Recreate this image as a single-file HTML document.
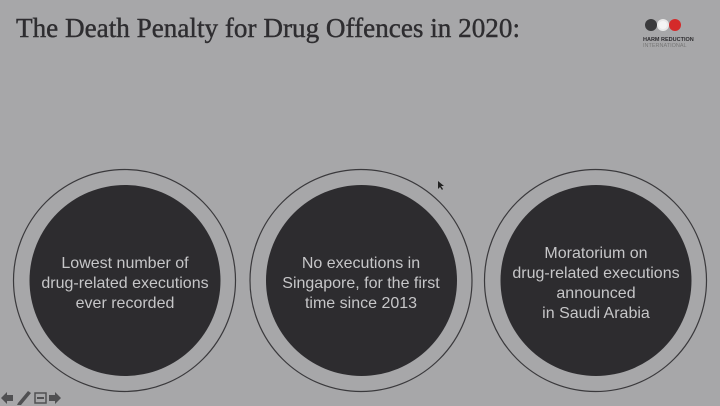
<!DOCTYPE html>
<html><head><style>
html,body{margin:0;padding:0;background:#a7a7a9;}
svg{display:block;}
</style></head><body>
<svg width="720" height="406" viewBox="0 0 720 406" xmlns="http://www.w3.org/2000/svg">
<rect width="720" height="406" fill="#a7a7a9"/>
<text x="16" y="37" font-family="Liberation Serif, serif" font-size="27" fill="#2e2d30" stroke="#2e2d30" stroke-width="0.4" textLength="504" lengthAdjust="spacingAndGlyphs">The Death Penalty for Drug Offences in 2020:</text>
<!-- logo -->
<circle cx="651" cy="25" r="6" fill="#3a3a3c"/>
<circle cx="663" cy="25" r="6" fill="#e8e8e8"/>
<circle cx="675" cy="25" r="6" fill="#d42a2a"/>
<circle cx="663" cy="25" r="4" fill="#f4f4f4"/>
<text x="643" y="41" font-family="Liberation Sans, sans-serif" font-size="5.5" font-weight="bold" fill="#2e2d30">HARM REDUCTION</text>
<text x="643" y="47" font-family="Liberation Sans, sans-serif" font-size="5.5" fill="#777">INTERNATIONAL</text>
<g fill="none" stroke="#3a393c" stroke-width="1.2">
<circle cx="124.5" cy="280.5" r="111"/>
<circle cx="361" cy="280.5" r="111"/>
<circle cx="595.5" cy="280.5" r="111"/>
</g>
<g fill="#2d2c2f">
<circle cx="125" cy="280.5" r="95.5"/>
<circle cx="361.5" cy="280.5" r="95.5"/>
<circle cx="596" cy="280.5" r="95.5"/>
</g>
<g font-family="Liberation Sans, sans-serif" font-size="16" fill="#c6c6c8" text-anchor="middle">
<text x="125" y="268">Lowest number of</text>
<text x="125" y="288">drug-related executions</text>
<text x="125" y="308">ever recorded</text>
<text x="361" y="268">No executions in</text>
<text x="361" y="288">Singapore, for the first</text>
<text x="361" y="308">time since 2013</text>
<text x="596" y="258">Moratorium on</text>
<text x="596" y="278">drug-related executions</text>
<text x="596" y="298">announced</text>
<text x="596" y="318">in Saudi Arabia</text>
</g>
<!-- nav icons -->
<g fill="#505052">
<polygon points="1,398 7,392 7,395 13,395 13,401 7,401 7,404"/>
<polygon points="18,403 28,391 31,393 21,405 17,405"/>
<rect x="35" y="393" width="11" height="10" fill="none" stroke="#505052" stroke-width="1.5"/>
<rect x="37" y="397" width="7" height="2"/>
<polygon points="61,398 55,392 55,395 49,395 49,401 55,401 55,404"/>
</g>
<polygon points="438,181 438,189 440,187 442,190 443,189 441,186 444,186" fill="#222"/>
</svg>
</body></html>
